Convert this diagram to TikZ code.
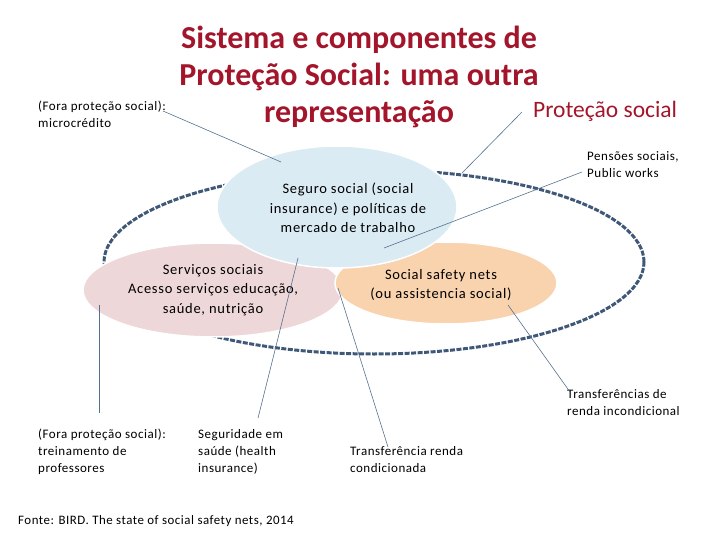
\documentclass[tikz,border=0pt]{standalone}
\usepackage{fontspec}
\setmainfont{Carlito}
\newfontfamily\lblfont[LetterSpace=4]{Carlito}
\newfontfamily\elfont[LetterSpace=5]{Carlito}
\usetikzlibrary{shapes.geometric}
\definecolor{titlered}{HTML}{A3152A}
\definecolor{dashc}{HTML}{3F5878}
\definecolor{linec}{HTML}{56718E}
\definecolor{bluef}{HTML}{DAEBF3}
\definecolor{pinkf}{HTML}{EED7D9}
\definecolor{orangef}{HTML}{F9D2AE}
\begin{document}
\begin{tikzpicture}[x=1pt,y=-1pt,
  lbl/.style={font=\lblfont\fontsize{13}{17}\selectfont, align=left, anchor=west, inner sep=0pt},
  etext/.style={font=\elfont\fontsize{14.5}{19.5}\selectfont, align=center, inner sep=0pt},
  blob/.style={ellipse, draw=white, line width=1.5pt, inner sep=0pt},
  conn/.style={draw=linec, line width=0.6pt},
  bigring/.style={draw=dashc, line width=3pt, dash pattern=on 5pt off 1.5pt}]
\useasboundingbox (0,0) rectangle (720,540);
% outer dashed ring
\node[ellipse, bigring, minimum width=540pt, minimum height=184pt, inner sep=0pt] (ring) at (374,262) {};
% coloured ellipses
\node[blob, fill=pinkf, minimum width=260pt, minimum height=94pt] (pink) at (213,290) {};
\node[blob, fill=orangef, minimum width=222pt, minimum height=82pt] (orange) at (446,283) {};
\node[blob, fill=bluef, minimum width=240pt, minimum height=122pt] (blue) at (337,207) {};
\node[etext] (bluet) at (348,208) {Seguro social (social\\insurance) e políticas de\\mercado de trabalho};
\node[etext] (pinkt) at (213,290) {Serviços sociais\\Acesso serviços educação,\\saúde, nutrição};
\node[etext] (oranget) at (441,285) {Social safety nets\\(ou assistencia social)};
% title
\node[font=\fontsize{32}{37}\selectfont\bfseries, text=titlered, align=center, inner sep=0pt] (title) at (359,77) {Sistema e componentes de\\Proteção Social: uma outra\\representação};
\node[font=\fontsize{23.5}{26}\selectfont, text=titlered, anchor=west, inner sep=0pt] (prot) at (533,111) {Proteção social};
% labels
\node[lbl] (micro) at (38,114) {(Fora proteção social):\\microcrédito};
\node[lbl] (pens) at (587,165) {Pensões sociais,\\Public works};
\node[lbl] (trinc) at (567,403) {Transferências de\\renda incondicional};
\node[lbl] (trein) at (38,452) {(Fora proteção social):\\treinamento de\\professores};
\node[lbl] (segur) at (198,452) {Seguridade em\\saúde (health\\insurance)};
\node[lbl] (trcond) at (350,460) {Transferência renda\\condicionada};
\node[lbl, font=\lblfont\fontsize{12.9}{16}\selectfont] (fonte) at (18,521) {Fonte: BIRD. The state of social safety nets, 2014};
% connector end points
\coordinate (m1) at (163,111);
\coordinate (m2) at (281,162);
\coordinate (p1) at (522,112);
\coordinate (p2) at (462,173);
\coordinate (q1) at (582,172);
\coordinate (q2) at (384,248);
\coordinate (t1) at (99,305);
\coordinate (t2) at (99,413);
\coordinate (s1) at (298,258);
\coordinate (s2) at (258,418);
\coordinate (c1) at (338,288);
\coordinate (c2) at (388,447);
\coordinate (u1) at (508,305);
\coordinate (u2) at (570,392);
\draw[conn] (m1) -- (m2);
\draw[conn] (p1) -- (p2);
\draw[conn] (q1) -- (q2);
\draw[conn] (t1) -- (t2);
\draw[conn] (s1) -- (s2);
\draw[conn] (c1) -- (c2);
\draw[conn] (u1) -- (u2);
\end{tikzpicture}
\end{document}
